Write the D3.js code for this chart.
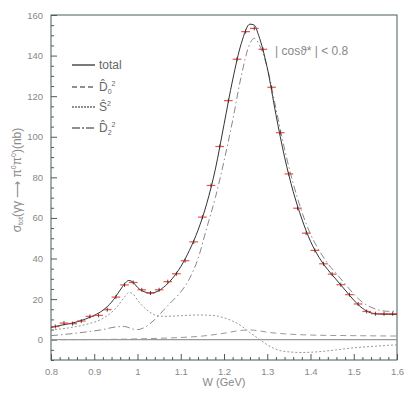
<!DOCTYPE html>
<html>
<head>
<meta charset="utf-8">
<script src="https://cdn.jsdelivr.net/npm/d3@7"></script>
<style>
  body { margin: 0; background: #fff; }
  text { font-family: "Liberation Sans", Arial, sans-serif; fill: #777; }
</style>
</head>
<body>
<script>
// storrelse
const w = 409;
const h = 396;

// data - punkter med fejlbarer
const dataX = [0.81, 0.83, 0.85, 0.87, 0.89, 0.91, 0.93, 0.95, 0.97, 0.99,
  1.01, 1.03, 1.05, 1.07, 1.09, 1.11, 1.13, 1.15, 1.17, 1.19,
  1.21, 1.23, 1.25, 1.27, 1.29, 1.31, 1.33, 1.35, 1.37, 1.39,
  1.41, 1.43, 1.45, 1.47, 1.49, 1.51, 1.53, 1.55, 1.57, 1.59];
const dataY = [6.5, 8.2, 7.9, 9.2, 11.5, 12.0, 14.8, 21.0, 27.0, 28.2,
  24.6, 23.0, 24.6, 28.6, 32.5, 38.9, 48.2, 60.4, 76.0, 95.2,
  117.8, 138.2, 151.8, 153.4, 143.1, 124.4, 102.0, 81.7, 64.8, 52.5,
  44.0, 37.4, 32.3, 27.1, 22.2, 17.6, 13.9, 12.8, 12.8, 12.8];

// kurver
const totalX = [0.80, 0.82, 0.84, 0.86, 0.88, 0.90, 0.92, 0.94, 0.96, 0.97, 0.98, 0.99, 1.00, 1.02, 1.03, 1.04, 1.06, 1.08, 1.10, 1.12, 1.14, 1.16, 1.18, 1.20, 1.22, 1.24, 1.26, 1.27, 1.28, 1.30, 1.32, 1.34, 1.36, 1.38, 1.40, 1.42, 1.44, 1.46, 1.48, 1.50, 1.52, 1.54, 1.56, 1.58, 1.60];
const totalY = [6.0, 7.0, 7.8, 8.8, 10.2, 12.0, 14.5, 18.5, 24.5, 27.5, 29.2, 28.2, 25.8, 23.3, 23.0, 23.3, 25.8, 30.0, 36, 44, 54, 67, 84, 106, 128, 146, 155.5, 155, 150, 134, 111, 90, 73, 59.5, 48.5, 40.5, 34.5, 29.5, 24.5, 19.5, 15.5, 13.2, 12.6, 12.5, 12.5];

const d2X = [0.80, 0.84, 0.88, 0.92, 0.95, 0.97, 0.99, 1.00, 1.02, 1.04, 1.06, 1.08, 1.10, 1.12, 1.14, 1.16, 1.18, 1.20, 1.22, 1.24, 1.26, 1.27, 1.28, 1.30, 1.32, 1.34, 1.36, 1.38, 1.40, 1.42, 1.44, 1.46, 1.48, 1.50, 1.52, 1.54, 1.56, 1.58, 1.60];
const d2Y = [2.0, 2.8, 3.8, 5.0, 6.3, 6.5, 5.2, 5.0, 6.5, 10, 14.5, 19, 23.5, 30, 40, 55, 70, 88, 108, 130, 146, 148.5, 146, 134, 114, 94, 77, 63, 52, 44, 37.5, 32.5, 27.5, 22.5, 18.5, 16, 14.5, 14, 14];

const sX = [0.80, 0.84, 0.88, 0.92, 0.95, 0.97, 0.98, 0.99, 1.00, 1.02, 1.04, 1.06, 1.10, 1.14, 1.18, 1.20, 1.22, 1.24, 1.26, 1.28, 1.30, 1.32, 1.35, 1.38, 1.42, 1.46, 1.50, 1.55, 1.60];
const sY = [4.8, 5.8, 7.5, 10.5, 15.5, 21, 23.3, 22.5, 19.5, 15, 12.2, 11.5, 11.8, 12.2, 11.8, 10.8, 9.2, 6.8, 3.5, 0.5, -2.5, -4.7, -6.0, -6.3, -5.9, -5.0, -4.0, -3.2, -2.5];

const d0X = [0.80, 0.90, 1.00, 1.05, 1.10, 1.15, 1.20, 1.24, 1.26, 1.28, 1.30, 1.34, 1.40, 1.50, 1.60];
const d0Y = [0.0, 0.1, 0.4, 0.7, 1.1, 1.8, 3.2, 4.6, 4.8, 4.4, 3.7, 2.9, 2.3, 2.0, 1.8];

// akser
const xTicks = [0.8, 0.9, 1.0, 1.1, 1.2, 1.3, 1.4, 1.5, 1.6];
const xTickLabels = ["0.8", "0.9", "1", "1.1", "1.2", "1.3", "1.4", "1.5", "1.6"];
const yTicks = [0, 20, 40, 60, 80, 100, 120, 140, 160];

const svg = d3.select("body").append("svg").attr("width", w).attr("height", h);

const xScale = d3.scaleLinear().domain([0.8, 1.6]).range([51, 397]);
const yScale = d3.scaleLinear().domain([-10, 160]).range([360, 15]);

const axisColor = "#4d5b5b";

// ramme
svg.append("rect")
  .attr("x", 51).attr("y", 15)
  .attr("width", 346).attr("height", 345)
  .attr("fill", "none").attr("stroke", axisColor).attr("stroke-width", 1);

// x-akse med små ticks indad
const xAxis = d3.axisBottom(xScale).tickValues(xTicks).tickSize(-6)
  .tickFormat((d, i) => xTickLabels[i]);
const gx = svg.append("g").attr("transform", "translate(0,360)").call(xAxis);
gx.select(".domain").remove();
gx.selectAll("line").attr("stroke", axisColor);
gx.selectAll("text").attr("y", 8).style("font-size", "9.5px").style("fill", "#888");

const xMinor = d3.axisBottom(xScale).tickValues(d3.range(0.82, 1.6, 0.02).filter(v => Math.abs(v * 10 - Math.round(v * 10)) > 0.01))
  .tickSize(-3).tickFormat("");
const gxm = svg.append("g").attr("transform", "translate(0,360)").call(xMinor);
gxm.select(".domain").remove();
gxm.selectAll("line").attr("stroke", axisColor);

// y-akse
const yAxis = d3.axisLeft(yScale).tickValues(yTicks).tickSize(-6);
const gy = svg.append("g").attr("transform", "translate(51,0)").call(yAxis);
gy.select(".domain").remove();
gy.selectAll("line").attr("stroke", axisColor);
gy.selectAll("text").attr("x", -8).style("font-size", "9.5px").style("fill", "#888");

const yMinor = d3.axisLeft(yScale).tickValues(d3.range(-10, 160, 5).filter(v => v % 20 !== 0))
  .tickSize(-3).tickFormat("");
const gym = svg.append("g").attr("transform", "translate(51,0)").call(yMinor);
gym.select(".domain").remove();
gym.selectAll("line").attr("stroke", axisColor);

// nul-linje
svg.append("line")
  .attr("x1", xScale(0.8)).attr("x2", xScale(1.6))
  .attr("y1", yScale(0)).attr("y2", yScale(0))
  .attr("stroke", "#999").attr("stroke-width", 1.2);

// kurver
const line = d3.line().x(d => xScale(d[0])).y(d => yScale(d[1])).curve(d3.curveMonotoneX);
function curve(xs, ys, color, dash, width) {
  svg.append("path")
    .datum(xs.map((x, i) => [x, ys[i]]))
    .attr("d", line)
    .attr("fill", "none")
    .attr("stroke", color)
    .attr("stroke-width", width)
    .attr("stroke-dasharray", dash);
}
curve(d0X, d0Y, "#999", "6,4", 1);
curve(sX, sY, "#999", "2,2", 1);
curve(d2X, d2Y, "#888", "7,3,1.5,3", 1);
curve(totalX, totalY, "#333", null, 1);

// fejlbarer
const pts = dataX.map((x, i) => [x, dataY[i]]);
svg.selectAll(".hbar").data(pts).enter().append("line")
  .attr("x1", d => xScale(d[0] - 0.01)).attr("x2", d => xScale(d[0] + 0.01))
  .attr("y1", d => yScale(d[1])).attr("y2", d => yScale(d[1]))
  .attr("stroke", "#e8322e").attr("stroke-opacity", 0.85).attr("stroke-width", 1.2);
svg.selectAll(".vbar").data(pts).enter().append("line")
  .attr("x1", d => xScale(d[0])).attr("x2", d => xScale(d[0]))
  .attr("y1", d => yScale(d[1]) - 2).attr("y2", d => yScale(d[1]) + 2)
  .attr("stroke", "#222").attr("stroke-width", 0.8);

// legend
const legNames = ["total", "D0", "S", "D2"];
const legDash = [null, "5,3", "2,1", "8,2,2,2"];
const legY = [65, 87, 107, 128];
legNames.forEach((n, i) => {
  svg.append("line")
    .attr("x1", 72).attr("x2", 95).attr("y1", legY[i]).attr("y2", legY[i])
    .attr("stroke", "#222").attr("stroke-width", 1.2)
    .attr("stroke-dasharray", legDash[i]);
  const t = svg.append("text").attr("x", 99).attr("y", legY[i] + 4)
    .style("font-size", "12px").style("fill", "#666");
  if (n === "total") {
    t.text("total");
  } else if (n === "S") {
    t.append("tspan").text("S\u0302");
    t.append("tspan").attr("dy", -5).style("font-size", "7px").text("2");
  } else {
    t.append("tspan").text("D\u0302");
    t.append("tspan").attr("dy", 3).style("font-size", "7px").text(n === "D0" ? "0" : "2");
    t.append("tspan").attr("dy", -8).style("font-size", "7px").text("2");
  }
});

// cos-tekst
svg.append("text").attr("x", 275).attr("y", 55)
  .style("font-size", "12px").style("fill", "#888")
  .text("| cos\u03D1* | < 0.8");

// akse-titler
svg.append("text").attr("x", 224).attr("y", 386)
  .attr("text-anchor", "middle").style("font-size", "11px").style("fill", "#888")
  .text("W (GeV)");

const yl = svg.append("text")
  .attr("transform", "translate(21,180) rotate(-90)")
  .attr("text-anchor", "middle").style("font-size", "12px").style("fill", "#888");
yl.append("tspan").text("\u03C3");
yl.append("tspan").attr("dy", 2).style("font-size", "7px").text("tot");
yl.append("tspan").attr("dy", -2).text("(\u03B3\u03B3   \u27F6   \u03C0");
yl.append("tspan").attr("dy", -5).style("font-size", "7px").text("0");
yl.append("tspan").attr("dy", 5).text("\u03C0");
yl.append("tspan").attr("dy", -5).style("font-size", "7px").text("0");
yl.append("tspan").attr("dy", 5).text(")(nb)");
</script>
</body>
</html>
